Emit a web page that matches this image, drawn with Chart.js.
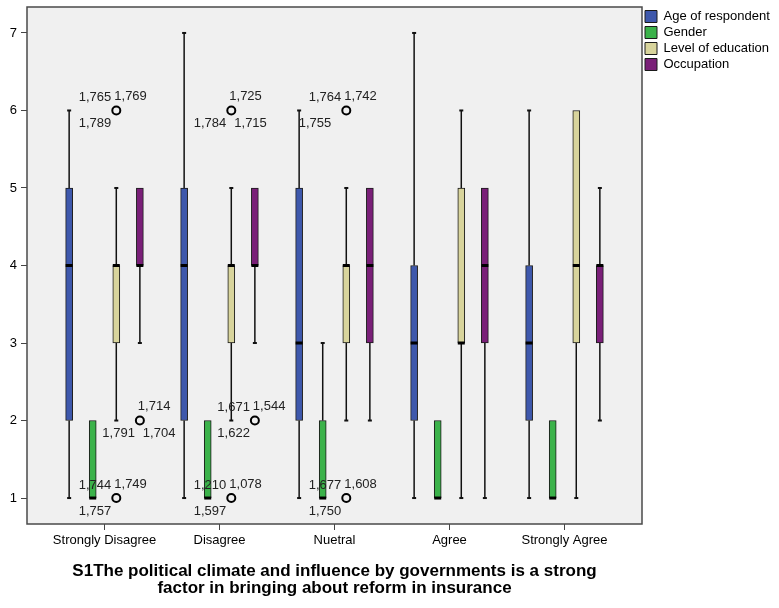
<!DOCTYPE html>
<html>
<head>
<meta charset="utf-8">
<script src="https://cdn.jsdelivr.net/npm/chart.js@4/dist/chart.umd.min.js"></script>
<style>
  html, body { margin: 0; padding: 0; background: #ffffff; }
  #wrap { width: 779px; height: 608px; }
</style>
</head>
<body>
<div id="wrap"><canvas id="c" width="779" height="608"></canvas></div>
<script>
// Response categories on the x axis
const categories = ['Strongly Disagree', 'Disagree', 'Nuetral', 'Agree', 'Strongly Agree'];
const seriesNames = ['Age of respondent', 'Gender', 'Level of education', 'Occupation'];
const yTicks = [1, 2, 3, 4, 5, 6, 7];

// Five-number summaries per series, one value per category
const ageMin    = [1, 1, 1, 1, 1];
const ageQ1     = [2, 2, 2, 2, 2];
const ageMedian = [4, 4, 3, 3, 3];
const ageQ3     = [5, 5, 5, 4, 4];
const ageMax    = [6, 7, 6, 7, 6];

const genderMin    = [1, 1, 1, 1, 1];
const genderQ1     = [1, 1, 1, 1, 1];
const genderMedian = [1, 1, 1, 1, 1];
const genderQ3     = [2, 2, 2, 2, 2];
const genderMax    = [2, 2, 3, 2, 2];

const eduMin    = [2, 2, 2, 1, 1];
const eduQ1     = [3, 3, 3, 3, 3];
const eduMedian = [4, 4, 4, 3, 4];
const eduQ3     = [4, 4, 4, 5, 6];
const eduMax    = [5, 5, 5, 6, 6];

const occMin    = [3, 3, 2, 1, 2];
const occQ1     = [4, 4, 3, 3, 3];
const occMedian = [4, 4, 4, 4, 4];
const occQ3     = [5, 5, 5, 5, 4];
const occMax    = [5, 5, 5, 5, 5];

// Outlying cases: category index, series index, value, case numbers
const outlierCategory = [0, 0, 0, 1, 1, 1, 2, 2];
const outlierSeries   = [2, 2, 3, 2, 2, 3, 2, 2];
const outlierValue    = [6, 1, 2, 6, 1, 2, 6, 1];
const outlierCases = [
  ['1,765', '1,769', '1,789'],
  ['1,744', '1,749', '1,757'],
  ['1,714', '1,791', '1,704'],
  ['1,725', '1,784', '1,715'],
  ['1,210', '1,078', '1,597'],
  ['1,671', '1,544', '1,622'],
  ['1,764', '1,742', '1,755'],
  ['1,677', '1,608', '1,750']
];

// ---- layout / styling ----
const FONT = 'Arial, "Liberation Sans", Helvetica, sans-serif';
const seriesColors = ['#3e58ac', '#3bb24a', '#d8d49c', '#7a1f78'];
const stats = [
  { min: ageMin, q1: ageQ1, med: ageMedian, q3: ageQ3, max: ageMax },
  { min: genderMin, q1: genderQ1, med: genderMedian, q3: genderQ3, max: genderMax },
  { min: eduMin, q1: eduQ1, med: eduMedian, q3: eduQ3, max: eduMax },
  { min: occMin, q1: occQ1, med: occMedian, q3: occQ3, max: occMax }
];
const X_MIN = -0.674, X_MAX = 4.674;
const Y_MIN = 0.665, Y_MAX = 7.335;
const SLOT = 0.205;                 // spacing of boxes inside a cluster
const seriesOffset = s => (s - 1.5) * SLOT;

// where the case numbers sit around each outlier circle
const labelSlots = [
  ['UL', 'UR', 'LL'], ['UL', 'UR', 'LL'], ['UR', 'LL', 'LR'],
  ['UR', 'LL', 'LR'], ['UL', 'UR', 'LL'], ['UL', 'UR', 'LL'],
  ['UL', 'UR', 'LLW'], ['UL', 'UR', 'LL']
];
const slotPos = {
  UL:  { dx: -5,  dy: -13, align: 'right' },
  UR:  { dx: -2,  dy: -14, align: 'left' },
  LL:  { dx: -5,  dy: 13,  align: 'right' },
  LLW: { dx: -15, dy: 13,  align: 'right' },
  LR:  { dx: 3,   dy: 13,  align: 'left' }
};

const boxDatasets = seriesNames.map((name, s) => ({
  type: 'bar',
  label: name,
  data: categories.map((c, i) => ({ x: i + seriesOffset(s), y: [stats[s].q1[i], stats[s].q3[i]] })),
  backgroundColor: seriesColors[s],
  borderColor: '#1a1a1a',
  borderWidth: 1,
  borderSkipped: false,
  barThickness: 7,
  grouped: false,
  order: 2
}));

const outlierDataset = {
  type: 'scatter',
  label: '__outliers',
  data: outlierValue.map((v, k) => ({ x: outlierCategory[k] + seriesOffset(outlierSeries[k]), y: v })),
  pointRadius: 4,
  pointHoverRadius: 4,
  pointBorderWidth: 2,
  pointBorderColor: '#000',
  pointBackgroundColor: '#f0f0f0',
  order: 1
};

const plotFrame = {
  id: 'plotFrame',
  beforeDraw(chart) {
    const { ctx, chartArea: a } = chart;
    ctx.save();
    ctx.fillStyle = '#f0f0f0';
    ctx.fillRect(a.left, a.top, a.right - a.left, a.bottom - a.top);
    ctx.restore();
  },
  beforeDatasetsDraw(chart) {
    const { ctx, chartArea: a } = chart;
    ctx.save();
    ctx.strokeStyle = '#4a4a4a';
    ctx.lineWidth = 1.5;
    ctx.strokeRect(a.left, a.top, a.right - a.left, a.bottom - a.top);
    ctx.restore();
  }
};

// whiskers under the boxes, medians and case labels on top
const boxParts = {
  id: 'boxParts',
  beforeDatasetsDraw(chart) {
    const { ctx } = chart;
    const y = chart.scales.y;
    ctx.save();
    ctx.strokeStyle = '#111';
    ctx.fillStyle = '#111';
    ctx.lineWidth = 1.5;
    stats.forEach((st, s) => {
      const meta = chart.getDatasetMeta(s);
      meta.data.forEach((bar, i) => {
        const x = bar.x;
        const segs = [];
        if (st.min[i] < st.q1[i]) segs.push([st.q1[i], st.min[i]]);
        if (st.max[i] > st.q3[i]) segs.push([st.q3[i], st.max[i]]);
        segs.forEach(([from, to]) => {
          const p0 = y.getPixelForValue(from), p1 = y.getPixelForValue(to);
          ctx.beginPath();
          ctx.moveTo(x, p0);
          ctx.lineTo(x, p1);
          ctx.stroke();
          ctx.fillRect(x - 2, p1 - 1, 4, 2);
        });
      });
    });
    ctx.restore();
  },
  afterDatasetsDraw(chart) {
    const { ctx } = chart;
    const y = chart.scales.y;
    ctx.save();
    ctx.fillStyle = '#000';
    stats.forEach((st, s) => {
      const meta = chart.getDatasetMeta(s);
      meta.data.forEach((bar, i) => {
        const py = y.getPixelForValue(st.med[i]);
        ctx.fillRect(bar.x - bar.width / 2, py - 1.5, bar.width, 3);
      });
    });
    const pts = chart.getDatasetMeta(stats.length).data;
    ctx.font = '13px ' + FONT;
    ctx.fillStyle = '#222';
    ctx.textBaseline = 'middle';
    pts.forEach((pt, k) => {
      outlierCases[k].forEach((txt, j) => {
        const p = slotPos[labelSlots[k][j]];
        ctx.textAlign = p.align;
        ctx.fillText(txt, pt.x + p.dx, pt.y + p.dy);
      });
    });
    ctx.restore();
  }
};

Chart.defaults.font.family = FONT;

new Chart(document.getElementById('c'), {
  type: 'bar',
  data: { datasets: [...boxDatasets, outlierDataset] },
  plugins: [plotFrame, boxParts],
  options: {
    responsive: false,
    animation: false,
    events: [],
    layout: { padding: { top: 7, right: 7, bottom: 0, left: 0 } },
    scales: {
      x: {
        type: 'linear',
        min: X_MIN,
        max: X_MAX,
        offset: false,
        afterBuildTicks: sc => { sc.ticks = categories.map((c, i) => ({ value: i })); },
        ticks: {
          callback: (v, i) => categories[i],
          font: { size: 13 },
          color: '#000',
          padding: 3,
          maxRotation: 0,
          autoSkip: false
        },
        grid: { display: true, offset: false, drawOnChartArea: false, drawTicks: true, tickLength: 6, color: '#444' },
        border: { display: false },
        afterFit: sc => { sc.height = 36; sc.paddingLeft = 0; sc.paddingRight = 0; }
      },
      y: {
        type: 'linear',
        min: Y_MIN,
        max: Y_MAX,
        afterBuildTicks: sc => { sc.ticks = yTicks.map(v => ({ value: v })); },
        ticks: { font: { size: 13 }, color: '#000', padding: 4 },
        grid: { display: true, drawOnChartArea: false, drawTicks: true, tickLength: 6, color: '#444' },
        border: { display: false },
        afterFit: sc => { sc.width = 27; sc.paddingTop = 0; sc.paddingBottom = 0; }
      }
    },
    plugins: {
      tooltip: { enabled: false },
      legend: {
        position: 'right',
        align: 'start',
        maxWidth: 130,
        labels: {
          boxWidth: 12,
          boxHeight: 12,
          padding: 3,
          color: '#000',
          font: { size: 13 },
          filter: item => item.text !== '__outliers'
        }
      },
      title: {
        display: true,
        position: 'bottom',
        fullSize: false,
        text: ['S1The political climate and influence by governments is a strong',
               'factor in bringing about reform in insurance'],
        color: '#000',
        font: { size: 17, weight: 'bold', lineHeight: '17px' },
        padding: { top: 2.5, bottom: 11.5 }
      }
    }
  }
});
</script>
</body>
</html>
